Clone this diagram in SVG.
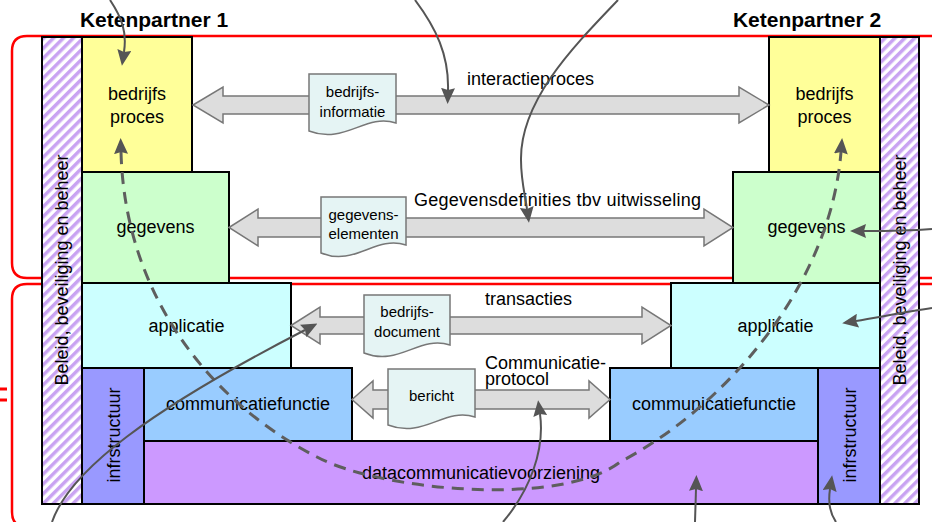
<svg xmlns="http://www.w3.org/2000/svg" width="932" height="522" viewBox="0 0 932 522">
<defs>
<pattern id="hatch" patternUnits="userSpaceOnUse" width="7" height="7" patternTransform="rotate(45)">
<rect width="7" height="7" fill="#ffffff"/>
<rect width="3.5" height="7" fill="#c9a3f2"/>
</pattern>
<marker id="ah" markerUnits="userSpaceOnUse" markerWidth="16" markerHeight="14" refX="2" refY="7" orient="auto-start-reverse" viewBox="0 0 16 14">
<path d="M0,0 L16,7 L0,14 L2,7 z" fill="#555555"/>
</marker>
</defs>
<style>
text{font-family:"Liberation Sans",Arial,sans-serif;fill:#000}
.lbl{font-size:18px}
.mid{text-anchor:middle}
.doct{font-size:15px;text-anchor:middle}
.box{stroke:#000;stroke-width:2}
.red{fill:none;stroke:#ff0000;stroke-width:2.5}
.blk{fill:#dddddd;stroke:#777777;stroke-width:1.5}
.doc{fill:#e5f4f4;stroke:#777777;stroke-width:1.5}
.crv{fill:none;stroke:#555555;stroke-width:2;marker-end:url(#ah)}
.dash{fill:none;stroke:#5e5e5e;stroke-width:3;stroke-dasharray:12 8}
</style>
<rect width="932" height="522" fill="#ffffff"/>

<g id="domains">
<path class="red" d="M934,36 H27 Q12,36 12,51 V263 Q12,278 27,278 H934"/>
<path class="red" d="M934,284 H27 Q12,284 12,299 V512 Q12,527 27,527"/>
<path d="M0,389 H7 M0,400 H7" stroke="#ff0000" stroke-width="3"/>
</g>

<g id="titles">
<text x="154" y="27" font-size="21" font-weight="bold" class="mid">Ketenpartner 1</text>
<text x="807" y="27" font-size="21" font-weight="bold" class="mid">Ketenpartner 2</text>
</g>

<g id="beleid-left">
<rect class="box" x="42" y="37" width="40" height="467" fill="url(#hatch)" stroke-width="1.5"/>
<text class="lbl mid" transform="translate(68,270) rotate(-90)">Beleid, beveiliging en beheer</text>
</g>
<g id="beleid-right">
<rect class="box" x="880" y="37" width="39" height="467" fill="url(#hatch)" stroke-width="1.5"/>
<text class="lbl mid" transform="translate(906,270) rotate(-90)">Beleid, beveiliging en beheer</text>
</g>

<g id="bedrijfsproces-1">
<rect class="box" x="82" y="37" width="110" height="135" fill="#ffff99"/>
<text class="lbl mid" x="137" y="100">bedrijfs</text>
<text class="lbl mid" x="137" y="123">proces</text>
</g>
<g id="bedrijfsproces-2">
<rect class="box" x="769" y="37" width="111" height="135" fill="#ffff99"/>
<text class="lbl mid" x="824.5" y="100">bedrijfs</text>
<text class="lbl mid" x="824.5" y="123">proces</text>
</g>

<g id="gegevens-1">
<rect class="box" x="82" y="172" width="147" height="111" fill="#ccffcc"/>
<text class="lbl mid" x="155.5" y="233">gegevens</text>
</g>
<g id="gegevens-2">
<rect class="box" x="733" y="172" width="147" height="111" fill="#ccffcc"/>
<text class="lbl mid" x="806.5" y="233">gegevens</text>
</g>

<g id="applicatie-1">
<rect class="box" x="82" y="283" width="209" height="85" fill="#ccffff"/>
<text class="lbl mid" x="186.5" y="332">applicatie</text>
</g>
<g id="applicatie-2">
<rect class="box" x="671" y="283" width="209" height="85" fill="#ccffff"/>
<text class="lbl mid" x="775.5" y="332">applicatie</text>
</g>

<g id="datacommunicatie">
<rect class="box" x="144" y="441" width="674" height="63" fill="#cc99ff"/>
<text class="lbl mid" x="481" y="479">datacommunicatievoorziening</text>
</g>

<g id="infra-1">
<rect class="box" x="82" y="368" width="62" height="136" fill="#9999ff"/>
<text class="lbl mid" transform="translate(120,435) rotate(-90)">infrstructuur</text>
</g>
<g id="infra-2">
<rect class="box" x="818" y="368" width="62" height="136" fill="#9999ff"/>
<text class="lbl mid" transform="translate(856,435) rotate(-90)">infrstructuur</text>
</g>

<g id="communicatiefunctie-1">
<rect class="box" x="144" y="368" width="208" height="73" fill="#99ccff"/>
<text class="lbl mid" x="248" y="410">communicatiefunctie</text>
</g>
<g id="communicatiefunctie-2">
<rect class="box" x="610" y="368" width="208" height="73" fill="#99ccff"/>
<text class="lbl mid" x="714" y="410">communicatiefunctie</text>
</g>

<g id="interactieproces">
<polygon class="blk" points="193,105 223,87 223,96 739,96 739,87 769,105 739,123 739,114 223,114 223,123"/>
<text class="lbl" x="467" y="85">interactieproces</text>
<path class="doc" d="M309,74 H396 V123 C365,113 345,145 309,131 Z"/>
<text class="doct" x="352.5" y="97">bedrijfs-</text>
<text class="doct" x="352.5" y="117">informatie</text>
</g>

<g id="gegevensdefinities">
<polygon class="blk" points="229,227.5 258,209 258,218 704,218 704,209 733,227.5 704,246 704,237 258,237 258,246"/>
<text class="lbl" x="414" y="206" textLength="287">Gegevensdefinities tbv uitwisseling</text>
<path class="doc" d="M321,197 H406 V245 C375,235 355,267 321,253 Z"/>
<text class="doct" x="363.5" y="220">gegevens-</text>
<text class="doct" x="363.5" y="239">elementen</text>
</g>

<g id="transacties">
<polygon class="blk" points="291,325.5 320,307 320,317 642,317 642,307 671,325.5 642,344 642,334 320,334 320,344"/>
<text class="lbl" x="485" y="305">transacties</text>
<path class="doc" d="M364,295 H450 V345 C419,335 399,367 364,353 Z"/>
<text class="doct" x="407" y="317">bedrijfs-</text>
<text class="doct" x="407" y="337">document</text>
</g>

<g id="communicatieprotocol">
<polygon class="blk" points="352,399.5 373,381 373,390 589,390 589,381 610,399.5 589,418 589,409 373,409 373,418"/>
<text class="lbl" x="485" y="369">Communicatie-</text>
<text class="lbl" x="485" y="385">protocol</text>
<path class="doc" d="M388,369 H475 V417 C444,407 424,439 388,425 Z"/>
<text class="doct" x="431.5" y="401">bericht</text>
</g>

<g id="connectors">
<path class="dash" style="marker-start:url(#ah);marker-end:url(#ah)" d="M121,152 C125,300 215,405 317,457 C378,490 560,508 620,462 C720,410 830,290 841,152"/>
<path class="crv" d="M110,0 C122,18 127,32 124,52"/>
<path class="crv" d="M415,0 C436,28 449,55 448,90"/>
<path class="crv" d="M618,0 C575,45 520,100 521,160 C521,180 525,195 527,209"/>
<path class="crv" d="M932,229 C905,231 885,231 864,231"/>
<path class="crv" d="M932,308 C905,312 880,317 856,321"/>
<path class="crv" d="M52,522 C70,470 150,410 305,330"/>
<path class="crv" d="M503,522 C530,490 545,450 540,414"/>
<path class="crv" d="M695,522 L696,489"/>
<path class="crv" d="M836,522 C829,512 828,502 830,489"/>
</g>
</svg>
